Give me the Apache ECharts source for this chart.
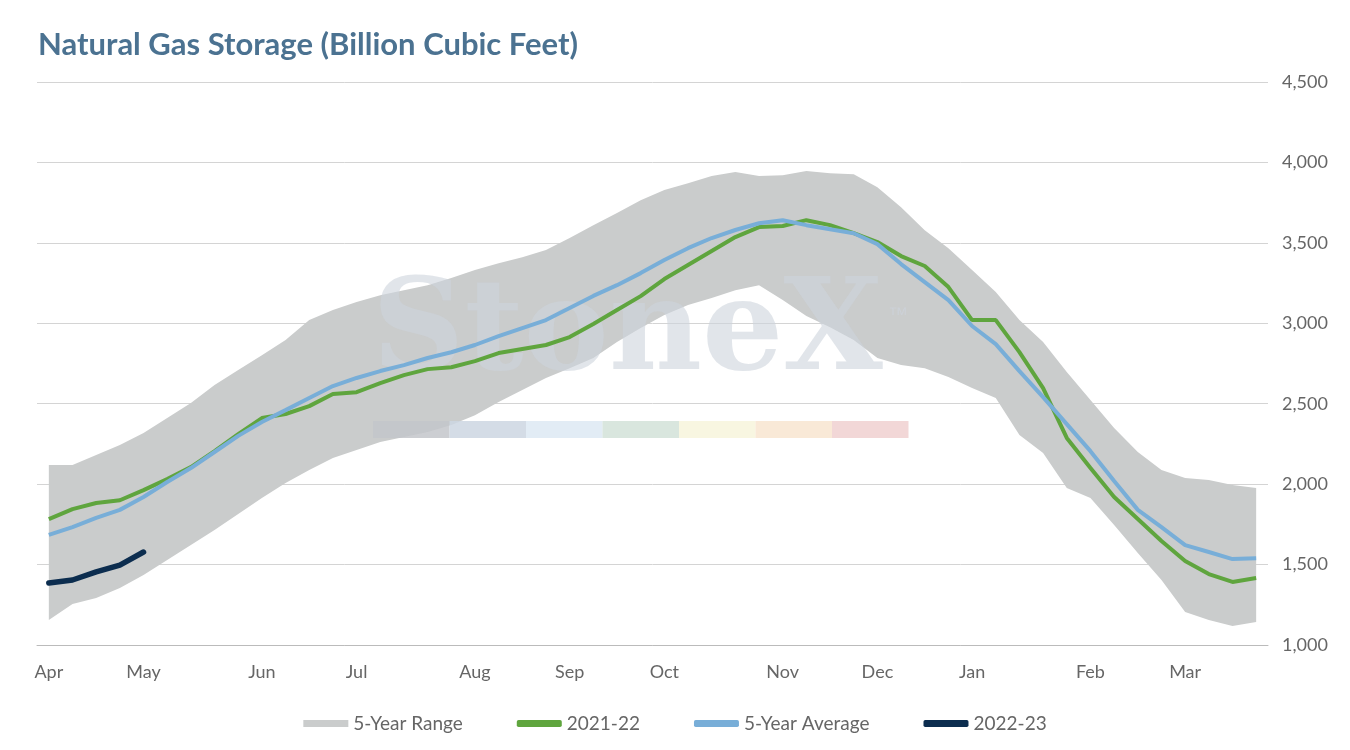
<!DOCTYPE html>
<html><head><meta charset="utf-8">
<script src="https://cdn.jsdelivr.net/npm/echarts@6/dist/echarts.min.js"></script>
<style>html,body{margin:0;padding:0;background:#fff}#c{width:1350px;height:750px}</style>
</head><body><div id="c"></div>
<script>
const monthLabels = {0:'Apr',4:'May',9:'Jun',13:'Jul',18:'Aug',22:'Sep',26:'Oct',31:'Nov',35:'Dec',39:'Jan',44:'Feb',48:'Mar'};
const weeks = Array.from({length:52},(_,i)=>String(i));
const avg5 = [1684,1733,1790,1840,1920,2013,2100,2200,2300,2386,2460,2535,2610,2660,2703,2740,2784,2820,2865,2920,2970,3020,3095,3170,3237,3312,3393,3467,3530,3580,3622,3641,3610,3585,3560,3492,3368,3256,3144,2983,2870,2703,2541,2373,2205,2019,1840,1733,1621,1578,1534,1540];
const y2122 = [1783,1845,1883,1900,1963,2031,2106,2205,2311,2411,2436,2485,2560,2572,2628,2678,2715,2727,2765,2815,2840,2865,2914,2995,3082,3169,3275,3362,3449,3536,3598,3605,3641,3610,3560,3505,3418,3356,3225,3020,3020,2821,2597,2287,2100,1920,1783,1646,1522,1441,1392,1416];
const y2223 = [1385,1404,1454,1497,1578];
const rangeHigh = [2119,2119,2181,2243,2318,2411,2504,2616,2709,2802,2896,3020,3082,3132,3175,3206,3237,3281,3331,3374,3411,3455,3530,3610,3685,3765,3828,3871,3915,3940,3915,3921,3946,3933,3927,3846,3722,3579,3467,3331,3194,3020,2883,2697,2523,2349,2200,2088,2038,2025,1994,1976];
const rangeLow = [1155,1255,1292,1354,1435,1528,1622,1715,1814,1914,2007,2088,2162,2212,2262,2293,2324,2367,2429,2510,2585,2660,2721,2784,2883,2970,3051,3113,3157,3206,3237,3144,3045,2976,2896,2784,2740,2721,2666,2597,2535,2305,2193,1976,1914,1746,1572,1404,1205,1155,1118,1143];
const rangeSpan = rangeHigh.map((v,i)=>v-rangeLow[i]);
const font = 'Lato, "Noto Sans", sans-serif';
const chart = echarts.init(document.getElementById('c'));
const wmColors = ['#c3c6ca','#cdd6e2','#dde9f3','#d2e2d8','#f7f4dc','#f8e5d0','#f0d0d0'];
chart.setOption({
  animation:false,
  title:{text:'Natural Gas Storage (Billion Cubic Feet)',left:33,top:24,textStyle:{color:'#4b7291',fontSize:31,fontWeight:'bold',fontFamily:font}},
  graphic:[
    {type:'text',left:372,top:272,z:4,style:{text:'StoneX',font:'bold 128px "DejaVu Serif", serif',fill:'rgba(205,211,220,0.6)'}},
    {type:'text',left:888,top:305,z:4,style:{text:'™',font:'20px sans-serif',fill:'rgba(205,211,220,0.7)'}},
    ...wmColors.map((c,i)=>({type:'rect',left:373+i*76.5,top:421,z:4,shape:{width:76.5,height:17},style:{fill:c,opacity:0.85}}))
  ],
  legend:{bottom:12,itemGap:54,itemWidth:45,itemHeight:7,textStyle:{color:'#666',fontSize:19,fontFamily:font},
    data:[{name:'5-Year Range',icon:'rect',itemStyle:{color:'#cacccc'}},{name:'2021-22',icon:'roundRect'},{name:'5-Year Average',icon:'roundRect'},{name:'2022-23',icon:'roundRect'}]},
  grid:{left:37,right:82,top:82,bottom:105},
  xAxis:{type:'category',data:weeks,boundaryGap:true,axisTick:{show:false},
    axisLine:{lineStyle:{color:'#bbb'}},
    axisLabel:{interval:(i)=>monthLabels[i]!==undefined,formatter:(v)=>monthLabels[+v]||'',color:'#666',fontSize:18,fontFamily:font,margin:18}},
  yAxis:{type:'value',position:'right',min:1000,max:4500,interval:500,
    axisLine:{show:false},axisTick:{show:false},
    splitLine:{lineStyle:{color:'#d4d4d4'}},
    axisLabel:{formatter:(v)=>v.toLocaleString('en-US'),color:'#666',fontSize:18,fontFamily:font,margin:14}},
  series:[
    {name:'low',type:'line',stack:'r',data:rangeLow,symbol:'none',lineStyle:{opacity:0},silent:true},
    {name:'5-Year Range',type:'line',stack:'r',data:rangeSpan,symbol:'none',lineStyle:{opacity:0},areaStyle:{color:'#cacccc',opacity:1},itemStyle:{color:'#cacccc'}},
    {name:'2021-22',type:'line',data:y2122,symbol:'none',lineStyle:{width:4,color:'#5fa53e'},itemStyle:{color:'#5fa53e'},z:5},
    {name:'5-Year Average',type:'line',data:avg5,symbol:'none',lineStyle:{width:4,color:'#78aed8'},itemStyle:{color:'#78aed8'},z:6},
    {name:'2022-23',type:'line',data:y2223,symbol:'none',lineStyle:{width:5.5,color:'#0c2d4f',cap:'round'},itemStyle:{color:'#0c2d4f'},z:7}
  ]
});
</script></body></html>
